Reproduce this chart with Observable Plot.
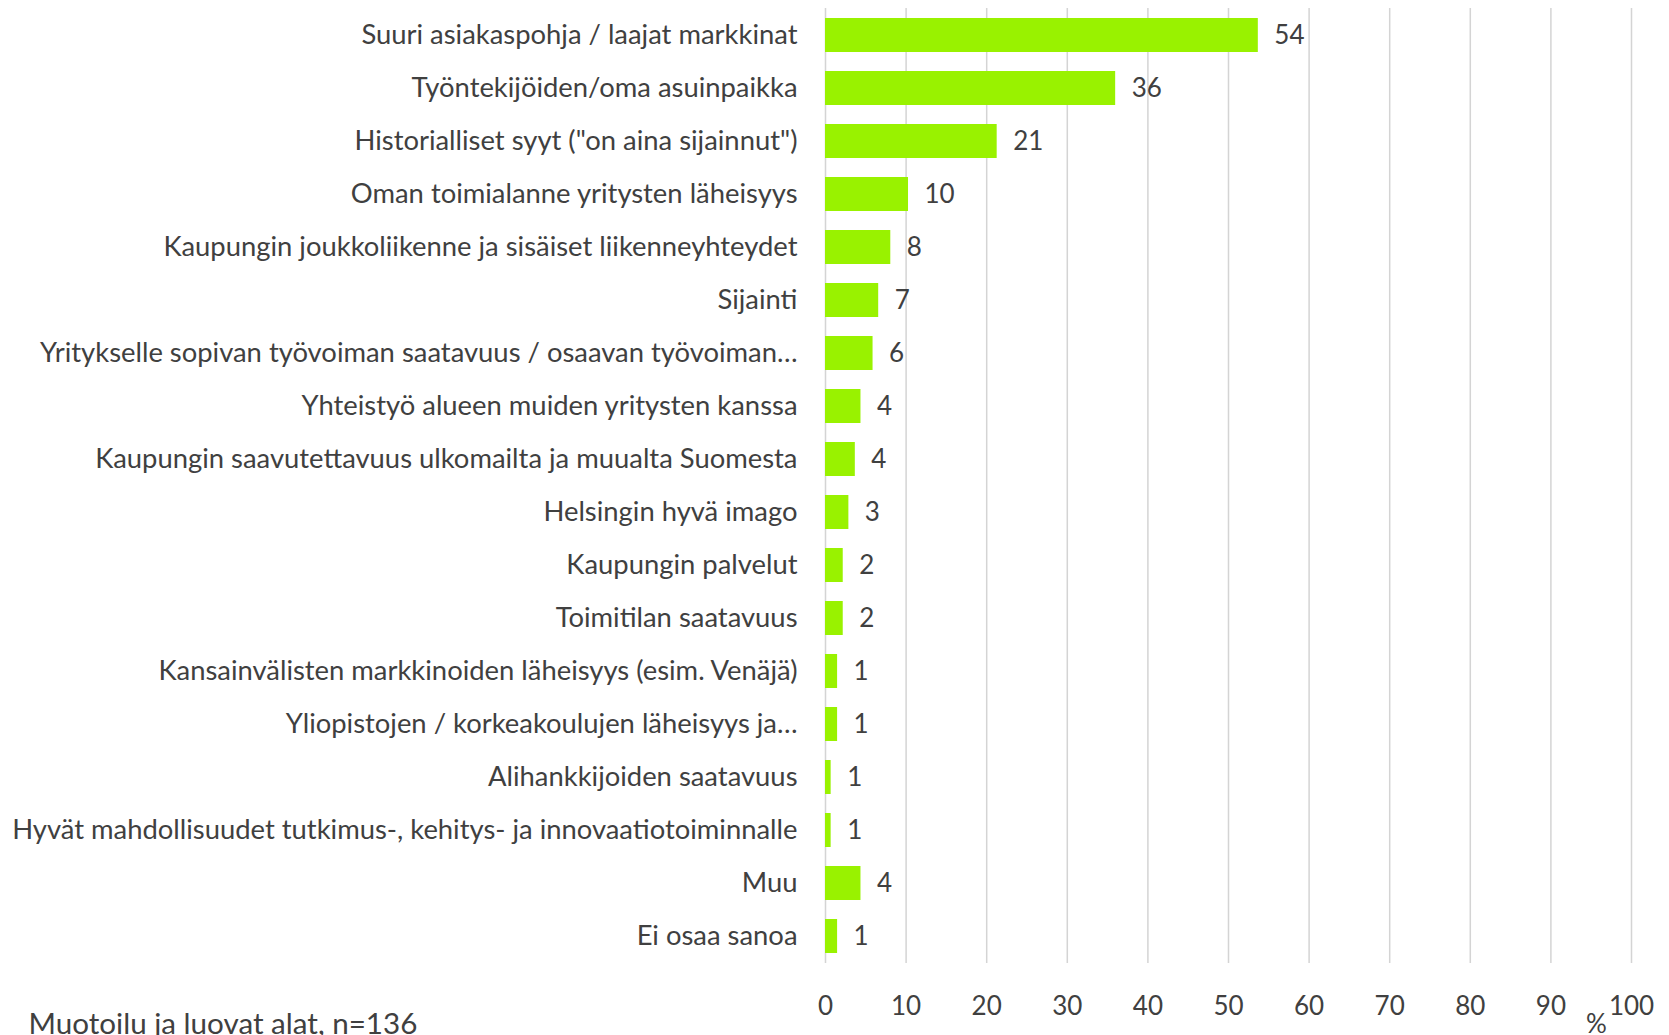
<!DOCTYPE html>
<html>
<head>
<meta charset="utf-8">
<script src="https://cdn.jsdelivr.net/npm/d3@7"></script>
<script src="https://cdn.jsdelivr.net/npm/@observablehq/plot@0.6"></script>
<style>
  html, body { margin: 0; padding: 0; background: #ffffff; }
  #chart { position: relative; width: 1669px; height: 1035px; overflow: hidden; }
</style>
</head>
<body>
<div id="chart"></div>
<script>
const categories = [
  "Suuri asiakaspohja / laajat markkinat",
  "Työntekijöiden/oma asuinpaikka",
  "Historialliset syyt (\"on aina sijainnut\")",
  "Oman toimialanne yritysten läheisyys",
  "Kaupungin joukkoliikenne ja sisäiset liikenneyhteydet",
  "Sijainti",
  "Yritykselle sopivan työvoiman saatavuus / osaavan työvoiman…",
  "Yhteistyö alueen muiden yritysten kanssa",
  "Kaupungin saavutettavuus ulkomailta ja muualta Suomesta",
  "Helsingin hyvä imago",
  "Kaupungin palvelut",
  "Toimitilan saatavuus",
  "Kansainvälisten markkinoiden läheisyys (esim. Venäjä)",
  "Yliopistojen / korkeakoulujen läheisyys ja…",
  "Alihankkijoiden saatavuus",
  "Hyvät mahdollisuudet tutkimus-, kehitys- ja innovaatiotoiminnalle",
  "Muu",
  "Ei osaa sanoa"
];
const values = [53.7, 36.0, 21.3, 10.3, 8.1, 6.6, 5.9, 4.4, 3.7, 2.9, 2.2, 2.2, 1.5, 1.5, 0.7, 0.7, 4.4, 1.5];
const valueLabels = ["54", "36", "21", "10", "8", "7", "6", "4", "4", "3", "2", "2", "1", "1", "1", "1", "4", "1"];
const xTicks = [0, 10, 20, 30, 40, 50, 60, 70, 80, 90, 100];
const unitLabel = "%";
const caption = "Muotoilu ja luovat alat, n=136";

const data = categories.map((c, i) => ({category: c, value: values[i], label: valueLabels[i]}));

const FONT = "Lato, 'Open Sans', sans-serif";
const TXT = "#404040";
const FS = 26;

const chart = Plot.plot({
  width: 1669,
  height: 1035,
  marginLeft: 825,
  marginRight: 38,
  marginTop: 8,
  marginBottom: 72,
  style: {fontFamily: FONT, color: TXT, background: "#ffffff", overflow: "visible"},
  x: {domain: [0, 100]},
  y: {domain: categories, range: [-2.4, 972.5], padding: 0.36},
  marks: [
    Plot.ruleX(xTicks, {stroke: "#d4d4d4", strokeWidth: 1.5}),
    Plot.barX(data, {x: "value", y: "category", fill: "#99f200"}),
    Plot.text(data, {
      x: "value", y: "category", text: "label",
      textAnchor: "start", dx: 16, fontSize: FS, fill: TXT, fontFamily: FONT
    }),
    Plot.axisY({tickSize: 0, tickPadding: 28, fontSize: 27.4, label: null, fill: TXT}),
    Plot.axisX({ticks: xTicks, tickSize: 0, tickPadding: 33, fontSize: FS, label: null, fill: TXT}),
    Plot.text([unitLabel], {
      frameAnchor: "bottom-right", dx: -35, dy: 61,
      textAnchor: "middle", lineAnchor: "middle", fontSize: FS, fill: TXT
    }),
    Plot.text([caption], {
      frameAnchor: "bottom-left", dx: -797, dy: 70,
      textAnchor: "start", lineAnchor: "bottom", fontSize: 29.6, fill: TXT
    })
  ]
});

document.getElementById("chart").appendChild(chart);
</script>
</body>
</html>
